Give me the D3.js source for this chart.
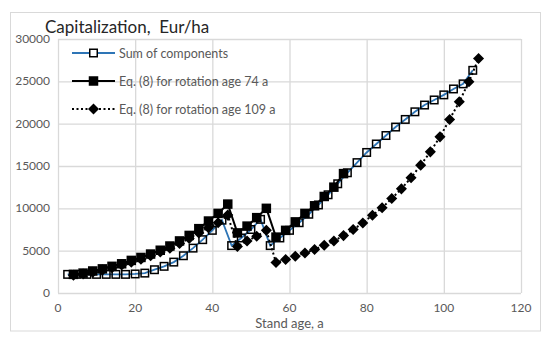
<!DOCTYPE html>
<html>
<head>
<meta charset="utf-8">
<script src="https://cdn.jsdelivr.net/npm/d3@7"></script>
<style>
  body { margin: 0; background: #fff; }
  svg { display: block; font-family: Lato, "Open Sans", sans-serif; }
</style>
</head>
<body>
<svg id="chart" width="550" height="340"></svg>
<script>
// sum of components, hollow squares on a blue line
const sumAges = [2.5, 5, 7.5, 10, 12.5, 15, 17.5, 20, 22.5, 25, 27.5, 30, 32.5, 35, 37.5, 40,
  42.5, 45, 47.5, 50, 52.5, 55, 57.5, 60, 62.5, 65, 67.5, 70, 72.5, 75, 77.5, 80,
  82.5, 85, 87.5, 90, 92.5, 95, 97.5, 100, 102.5, 105, 107.5];
const sumValues = [2200, 2200, 2200, 2200, 2200, 2200, 2200, 2250, 2350, 2750, 3150, 3650, 4400, 5300, 6300, 7400,
  8600, 5600, 6500, 7500, 8700, 5600, 6500, 7400, 8300, 9300, 10400, 11600, 12900, 14200, 15400, 16600,
  17600, 18600, 19600, 20500, 21400, 22200, 22800, 23400, 24100, 24700, 26300];

// Eq. (8), rotation age 74 a
const ages74 = [4, 6.5, 9, 11.5, 14, 16.5, 19, 21.5, 24, 26.5, 29, 31.5, 34, 36.5, 39, 41.5,
  44, 46.5, 49, 51.5, 54, 56.5, 59, 61.5, 64, 66.5, 69, 71.5, 74];
const values74 = [2200, 2350, 2600, 2850, 3150, 3450, 3850, 4200, 4600, 5050, 5550, 6150, 6800, 7600, 8500, 9400,
  10500, 7100, 7900, 8900, 10000, 6600, 7400, 8400, 9400, 10300, 11400, 12500, 14100];

// Eq. (8), rotation age 109 a
const ages109 = [4, 6.5, 9, 11.5, 14, 16.5, 19, 21.5, 24, 26.5, 29, 31.5, 34, 36.5, 39, 41.5,
  44, 46.5, 49, 51.5, 54, 56.5, 59, 61.5, 64, 66.5, 69, 71.5, 74, 76.5, 79, 81.5,
  84, 86.5, 89, 91.5, 94, 96.5, 99, 101.5, 104, 106.5, 109];
const values109 = [2100, 2250, 2450, 2700, 3000, 3300, 3650, 4000, 4400, 4850, 5300, 5850, 6450, 7100, 7700, 8300,
  9200, 5500, 6150, 6700, 7400, 3600, 3950, 4340, 4730, 5130, 5640, 6150, 6780, 7490, 8270, 9180,
  10070, 11160, 12300, 13620, 15100, 16670, 18440, 20500, 22580, 24940, 27700];

const xTicks = [0, 20, 40, 60, 80, 100, 120];
const yTicks = [0, 5000, 10000, 15000, 20000, 25000, 30000];
const legendLabels = ["Sum of components", "Eq. (8) for rotation age 74 a", "Eq. (8) for rotation age 109 a"];

const svg = d3.select("#chart");
const margin = { left: 58, right: 29, top: 39, bottom: 47 };
const W = 550, H = 340;

const x = d3.scaleLinear().domain([0, 120]).range([margin.left, W - margin.right]);
const y = d3.scaleLinear().domain([0, 30000]).range([H - margin.bottom, margin.top]);

// outer chart frame
svg.append("rect")
  .attr("x", 10.5).attr("y", 12.5)
  .attr("width", 530).attr("height", 318.5)
  .attr("fill", "#fff").attr("stroke", "#d9d9d9");

// grid
svg.append("g")
  .attr("transform", `translate(0,${y(0)})`)
  .call(d3.axisBottom(x).tickValues(xTicks).tickSize(-(y(0) - y(30000))).tickFormat(""))
  .call(g => g.select(".domain").remove())
  .call(g => g.selectAll("line").attr("stroke", "#d9d9d9").attr("stroke-width", 1.3));

svg.append("g")
  .attr("transform", `translate(${x(0)},0)`)
  .call(d3.axisLeft(y).tickValues(yTicks).tickSize(-(x(120) - x(0))).tickFormat(""))
  .call(g => g.select(".domain").remove())
  .call(g => g.selectAll("line").attr("stroke", "#d9d9d9").attr("stroke-width", 1.3));

// tick labels
svg.append("g")
  .selectAll("text")
  .data(xTicks)
  .join("text")
  .attr("x", d => x(d))
  .attr("y", y(0) + 19)
  .attr("text-anchor", "middle")
  .attr("font-size", 12)
  .attr("fill", "#595959")
  .text(d => d);

svg.append("g")
  .selectAll("text")
  .data(yTicks)
  .join("text")
  .attr("x", x(0) - 8)
  .attr("y", d => y(d) + 4)
  .attr("text-anchor", "end")
  .attr("font-size", 12)
  .attr("fill", "#595959")
  .text(d => d);

svg.append("text")
  .attr("x", (x(0) + x(120)) / 2)
  .attr("y", 328)
  .attr("text-anchor", "middle")
  .attr("font-size", 13)
  .attr("fill", "#595959")
  .text("Stand age, a");

svg.append("text")
  .attr("x", 45)
  .attr("y", 33)
  .attr("font-size", 17)
  .attr("fill", "#262626")
  .style("white-space", "pre")
  .text("Capitalization,  Eur/ha");

// series
const line = d3.line().x(d => x(d[0])).y(d => y(d[1]));
const sumData = d3.zip(sumAges, sumValues);
const data74 = d3.zip(ages74, values74);
const data109 = d3.zip(ages109, values109);

svg.append("path").datum(sumData)
  .attr("d", line).attr("fill", "none")
  .attr("stroke", "#2e75b6").attr("stroke-width", 1.8);
svg.append("g").selectAll("rect").data(sumData).join("rect")
  .attr("x", d => x(d[0]) - 3.75).attr("y", d => y(d[1]) - 3.75)
  .attr("width", 7.5).attr("height", 7.5)
  .attr("fill", "none").attr("stroke", "#000").attr("stroke-width", 1.5);

svg.append("path").datum(data74)
  .attr("d", line).attr("fill", "none")
  .attr("stroke", "#000").attr("stroke-width", 2);
svg.append("g").selectAll("rect").data(data74).join("rect")
  .attr("x", d => x(d[0]) - 4.75).attr("y", d => y(d[1]) - 4.75)
  .attr("width", 9.5).attr("height", 9.5)
  .attr("fill", "#000");

const diamond = d3.symbol().type(d3.symbolDiamond2).size(78);
svg.append("path").datum(data109)
  .attr("d", line).attr("fill", "none")
  .attr("stroke", "#000").attr("stroke-width", 2)
  .attr("stroke-dasharray", "2,2.5");
svg.append("g").selectAll("path").data(data109).join("path")
  .attr("transform", d => `translate(${x(d[0])},${y(d[1])})`)
  .attr("d", diamond)
  .attr("fill", "#000");

// legend
const legend = svg.append("g");
const rows = legend.selectAll("g").data(legendLabels).join("g")
  .attr("transform", (d, i) => `translate(72,${53 + i * 28})`);
rows.append("line")
  .attr("x1", 0).attr("x2", 43).attr("y1", 0).attr("y2", 0)
  .attr("stroke", (d, i) => i === 0 ? "#2e75b6" : "#000")
  .attr("stroke-width", (d, i) => i === 0 ? 1.8 : 2)
  .attr("stroke-dasharray", (d, i) => i === 2 ? "2,2.5" : null);
rows.filter((d, i) => i === 0).append("rect")
  .attr("x", 17.75).attr("y", -3.75).attr("width", 7.5).attr("height", 7.5)
  .attr("fill", "#fff").attr("stroke", "#000").attr("stroke-width", 1.5);
rows.filter((d, i) => i === 1).append("rect")
  .attr("x", 16.75).attr("y", -4.75).attr("width", 9.5).attr("height", 9.5)
  .attr("fill", "#000");
rows.filter((d, i) => i === 2).append("path")
  .attr("transform", "translate(21.5,0)")
  .attr("d", diamond).attr("fill", "#000");
rows.append("text")
  .attr("x", 47).attr("y", 4.5)
  .attr("font-size", 12.5)
  .attr("fill", "#595959")
  .text(d => d);
</script>
</body>
</html>
